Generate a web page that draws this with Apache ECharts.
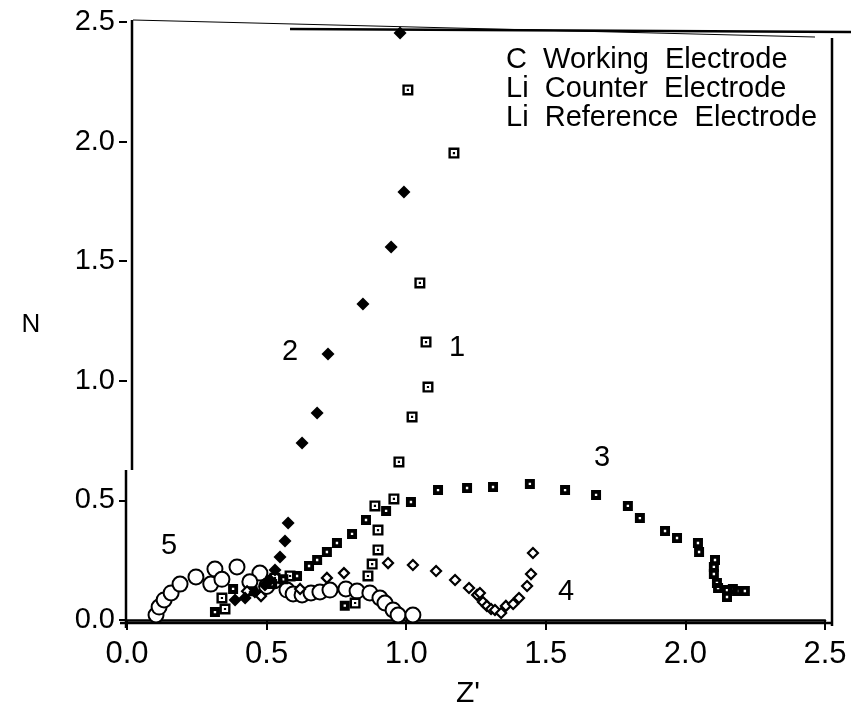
<!DOCTYPE html>
<html>
<head>
<meta charset="utf-8">
<script src="https://cdn.jsdelivr.net/npm/echarts@6/dist/echarts.min.js"></script>
<style>
html,body{margin:0;padding:0;background:#fff;}
#chart{width:851px;height:709px;}
</style>
</head>
<body>
<div id="chart"></div>
<script>
// ---- data (Z', N) ----
var xTicks = ['0.0', '0.5', '1.0', '1.5', '2.0', '2.5'];
var yTicks = ['0.0', '0.5', '1.0', '1.5', '2.0', '2.5'];
var legendLines = ['C  Working  Electrode', 'Li  Counter  Electrode', 'Li  Reference  Electrode'];
var curveLabels = ['1', '2', '3', '4', '5'];

var s1 = [ // open squares with dot
  [1.006, 2.216], [1.171, 1.952], [1.049, 1.409], [1.071, 1.162], [1.078, 0.974],
  [1.021, 0.849], [0.974, 0.661], [0.956, 0.506], [0.888, 0.477], [0.899, 0.376],
  [0.899, 0.293], [0.878, 0.234], [0.863, 0.184], [0.817, 0.071], [0.584, 0.184],
  [0.530, 0.175], [0.340, 0.092], [0.351, 0.046]
];
var s2 = [ // filled diamonds
  [0.978, 2.454], [0.992, 1.789], [0.946, 1.559], [0.845, 1.321], [0.720, 1.112],
  [0.681, 0.865], [0.627, 0.740], [0.577, 0.406], [0.566, 0.330], [0.548, 0.263],
  [0.530, 0.209], [0.512, 0.167], [0.494, 0.146], [0.458, 0.117], [0.423, 0.092],
  [0.387, 0.084]
];
var s3 = [ // filled squares with white dot
  [0.315, 0.033], [0.380, 0.130], [0.450, 0.120], [0.520, 0.150], [0.560, 0.170],
  [0.609, 0.184], [0.652, 0.226], [0.681, 0.251], [0.716, 0.284], [0.752, 0.322],
  [0.806, 0.360], [0.856, 0.418], [0.928, 0.456], [1.017, 0.493], [1.114, 0.543],
  [1.218, 0.552], [1.311, 0.556], [1.443, 0.569], [1.569, 0.543], [1.680, 0.523],
  [1.794, 0.477], [1.837, 0.426], [1.927, 0.372], [1.970, 0.343], [2.045, 0.322],
  [2.049, 0.284], [2.106, 0.251], [2.102, 0.222], [2.102, 0.192], [2.113, 0.155],
  [2.117, 0.134], [2.149, 0.125], [2.149, 0.096], [2.170, 0.130], [2.185, 0.121],
  [2.213, 0.121], [0.780, 0.060]
];
var s4 = [ // open diamonds
  [0.430, 0.120], [0.480, 0.100], [0.620, 0.130], [0.716, 0.176], [0.777, 0.196],
  [0.935, 0.238], [1.024, 0.230], [1.107, 0.205], [1.175, 0.167], [1.225, 0.134],
  [1.254, 0.105], [1.264, 0.113], [1.275, 0.075], [1.289, 0.059], [1.304, 0.046],
  [1.318, 0.042], [1.340, 0.029], [1.357, 0.059], [1.383, 0.067], [1.404, 0.092],
  [1.433, 0.142], [1.447, 0.192], [1.454, 0.280]
];
var s5 = [ // large open circles
  [0.104, 0.021], [0.115, 0.054], [0.133, 0.084], [0.158, 0.113], [0.190, 0.150],
  [0.247, 0.180], [0.315, 0.213], [0.394, 0.222], [0.476, 0.196], [0.527, 0.163],
  [0.573, 0.125], [0.595, 0.109], [0.627, 0.105], [0.659, 0.113], [0.691, 0.117],
  [0.727, 0.125], [0.784, 0.130], [0.824, 0.121], [0.870, 0.113], [0.906, 0.092],
  [0.924, 0.071], [0.953, 0.042], [0.971, 0.021], [1.024, 0.021],
  [0.300, 0.150], [0.340, 0.170], [0.440, 0.160], [0.500, 0.140]
];

var chart = echarts.init(document.getElementById('chart'), null, {renderer: 'canvas'});

var SQ_DOT = 'path://M0,0H12V12H0Z M2.6,2.6V9.4H9.4V2.6Z M4.8,4.8H7.2V7.2H4.8Z';
var SQ_FILL = 'path://M0,0H10V10H0Z M3.8,3.8V6.2H6.2V3.8Z';
var FONT = '"Liberation Sans", Arial, sans-serif';

function txt(x, y, s, size, align, fam) {
  return {type: 'text', x: x, y: y, z: 10,
    style: {text: s, font: size + 'px ' + (fam || FONT), fill: '#000', align: align || 'center', verticalAlign: 'middle'}};
}

var option = {
  animation: false,
  backgroundColor: '#fff',
  grid: {left: 127, right: 26, top: 22, bottom: 89, containLabel: false},
  xAxis: {
    type: 'value', min: 0, max: 2.5, interval: 0.5, offset: 3,
    axisLine: {show: true, lineStyle: {color: '#000', width: 2.5}},
    axisTick: {show: true, inside: false, length: 10, lineStyle: {color: '#000', width: 2}},
    splitLine: {show: false},
    axisLabel: {
      color: '#000', fontSize: 31, fontFamily: '"Liberation Sans Narrow", "Liberation Sans", sans-serif',
      margin: 16, formatter: function (v) { return xTicks[Math.round(v / 0.5)]; }
    }
  },
  yAxis: {
    type: 'value', min: 0, max: 2.5, interval: 0.5,
    axisLine: {show: false},
    axisTick: {show: true, inside: false, length: 8, lineStyle: {color: '#000', width: 2}},
    splitLine: {show: false},
    axisLabel: {
      color: '#000', fontSize: 29, fontFamily: FONT,
      margin: 12, formatter: function (v) { return yTicks[Math.round(v / 0.5)]; }
    }
  },
  series: [
    {type: 'scatter', name: '5', data: s5, symbol: 'circle', symbolSize: 15,
      itemStyle: {color: '#fff', borderColor: '#000', borderWidth: 2, opacity: 1}},
    {type: 'scatter', name: '3', data: s3, symbol: SQ_FILL, symbolSize: 10,
      itemStyle: {color: '#000', opacity: 1}},
    {type: 'scatter', name: '4', data: s4, symbol: 'diamond', symbolSize: 10,
      itemStyle: {color: '#fff', borderColor: '#000', borderWidth: 2.2, opacity: 1}},
    {type: 'scatter', name: '1', data: s1, symbol: SQ_DOT, symbolSize: 11,
      itemStyle: {color: '#000', opacity: 1}},
    {type: 'scatter', name: '2', data: s2, symbol: 'diamond', symbolSize: 13,
      itemStyle: {color: '#000', opacity: 1}}
  ],
  graphic: [
    // broken left axis line
    {type: 'line', shape: {x1: 132, y1: 20, x2: 132, y2: 470}, style: {stroke: '#000', lineWidth: 2.5}},
    {type: 'line', shape: {x1: 126, y1: 470, x2: 126, y2: 628}, style: {stroke: '#000', lineWidth: 2.5}},
    // x axis line extension (scan)
    {type: 'line', shape: {x1: 120, y1: 623, x2: 832, y2: 623}, style: {stroke: '#000', lineWidth: 2.5}},
    // top frame (scanned, slightly skewed)
    {type: 'line', shape: {x1: 133, y1: 20, x2: 815, y2: 37}, style: {stroke: '#000', lineWidth: 1.2}},
    {type: 'line', shape: {x1: 290, y1: 29, x2: 851, y2: 32}, style: {stroke: '#000', lineWidth: 2.5}},
    // right frame
    {type: 'line', shape: {x1: 832, y1: 38, x2: 832, y2: 626}, style: {stroke: '#000', lineWidth: 2.5}},
    // legend text
    txt(506, 60, legendLines[0], 29, 'left'),
    txt(506, 89, legendLines[1], 29, 'left'),
    txt(506, 118, legendLines[2], 29, 'left'),
    // curve numbers
    txt(457, 348, curveLabels[0], 29),
    txt(290, 352, curveLabels[1], 29),
    txt(602, 458, curveLabels[2], 29),
    txt(566, 592, curveLabels[3], 29),
    txt(169, 546, curveLabels[4], 29),
    // axis titles
    txt(31, 325, 'N', 26),
    txt(468, 694, "Z'", 30, 'center', '"Liberation Sans Narrow", "Liberation Sans", sans-serif')
  ]
};
chart.setOption(option);
</script>
</body>
</html>
